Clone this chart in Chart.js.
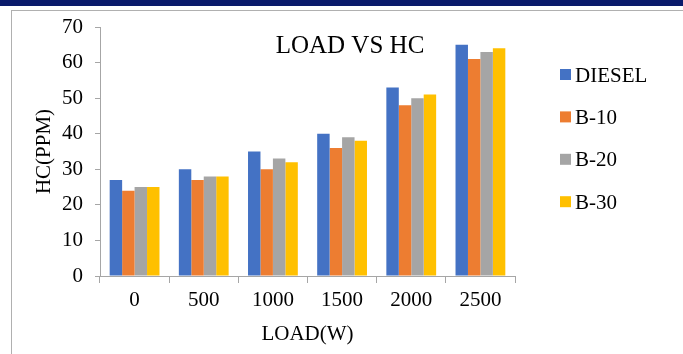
<!DOCTYPE html>
<html>
<head>
<meta charset="utf-8">
<script src="https://cdn.jsdelivr.net/npm/chart.js@4"></script>
<style>
  html, body { margin: 0; padding: 0; background: #fff; }
  #wrap { position: relative; width: 683px; height: 354px; overflow: hidden; }
  #band { position: absolute; left: 0; top: 0; width: 683px; height: 6px; background: #0a1a6b; }
  #frame { position: absolute; left: 11px; top: 10px; width: 720px; height: 400px; border: 1px solid #b0b0b0; }
  #chart { position: absolute; left: 0; top: 0; }
</style>
</head>
<body>
<div id="wrap">
  <div id="band"></div>
  <div id="frame"></div>
  <canvas id="chart" width="683" height="354"></canvas>
</div>
<script>
// dados
const loads = ['0', '500', '1000', '1500', '2000', '2500'];
const diesel = [27, 30, 35, 40, 53, 65];
const b10 = [24, 27, 30, 36, 48, 61];
const b20 = [25, 28, 33, 39, 50, 63];
const b30 = [25, 28, 32, 38, 51, 64];
const seriesNames = ['DIESEL', 'B-10', 'B-20', 'B-30'];
const seriesColors = ['#4472C4', '#ED7D31', '#A5A5A5', '#FFC000'];

const serif = 'Liberation Serif, Times New Roman, serif';
const axisGray = '#a6a6a6';

// titulo e legenda desenhados por cima do grafico
const overlayPlugin = {
    id: 'overlay',
    afterDraw(chart) {
        const ctx = chart.ctx;
        ctx.save();
        ctx.fillStyle = '#000';
        ctx.font = '25px ' + serif;
        ctx.textAlign = 'center';
        ctx.textBaseline = 'alphabetic';
        ctx.fillText('LOAD VS HC', 350, 53);

        ctx.font = '21px ' + serif;
        ctx.textAlign = 'left';
        chart.data.datasets.forEach((ds, i) => {
            const top = 69 + i * 42.4;
            ctx.fillStyle = ds.backgroundColor;
            ctx.fillRect(560, top, 11, 11);
            ctx.fillStyle = '#000';
            ctx.fillText(ds.label, 575, top + 12.5);
        });
        ctx.restore();
    }
};

const datasets = [diesel, b10, b20, b30].map((values, i) => ({
    label: seriesNames[i],
    data: values,
    backgroundColor: seriesColors[i],
    borderWidth: 0,
    categoryPercentage: 0.72,
    barPercentage: 1.0
}));

new Chart(document.getElementById('chart').getContext('2d'), {
    type: 'bar',
    data: { labels: loads, datasets: datasets },
    options: {
        responsive: false,
        animation: false,
        devicePixelRatio: 1,
        layout: { padding: { top: 27, right: 168, left: 0, bottom: 0 } },
        plugins: {
            legend: { display: false },
            title: { display: false },
            tooltip: { enabled: false }
        },
        scales: {
            x: {
                grid: { drawOnChartArea: false, tickLength: 7, color: axisGray, offset: true },
                border: { color: axisGray, width: 1 },
                ticks: { color: '#000', font: { family: serif, size: 21 }, padding: 5, maxRotation: 0 },
                title: { display: true, text: 'LOAD(W)', color: '#000', font: { family: serif, size: 21 }, padding: { top: 0, bottom: 7 } },
                afterFit(scale) { scale.height = 78; }
            },
            y: {
                min: 0,
                max: 70,
                ticks: { stepSize: 10, color: '#000', font: { family: serif, size: 21 }, padding: 12 },
                grid: { drawOnChartArea: false, tickLength: 5, color: axisGray },
                border: { color: axisGray, width: 1 },
                title: { display: true, text: 'HC(PPM)', color: '#000', font: { family: serif, size: 21 }, padding: { top: 32, bottom: 0 } },
                afterFit(scale) { scale.width = 100; }
            }
        }
    },
    plugins: [overlayPlugin]
});
</script>
</body>
</html>
